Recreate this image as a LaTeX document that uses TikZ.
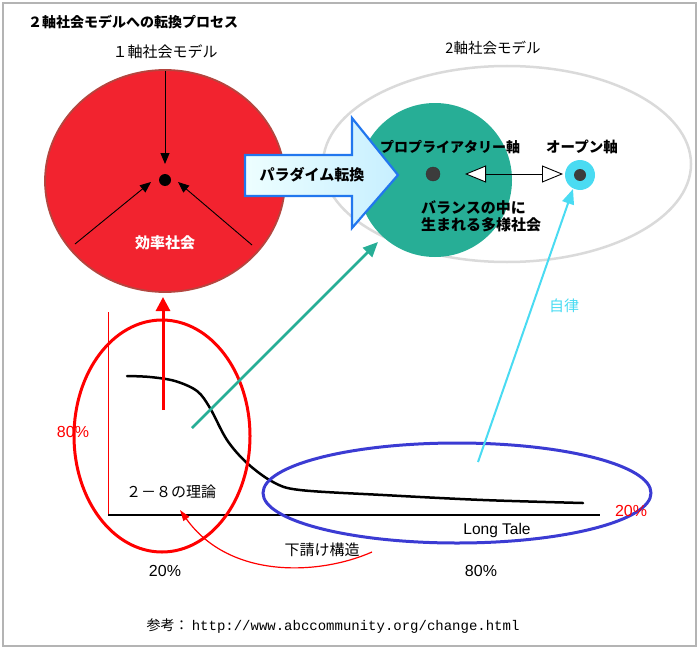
\documentclass[tikz,border=0pt]{standalone}
\usepackage{fontspec}
\newfontfamily\jp{Noto Sans CJK JP}
\newfontfamily\ar{Liberation Sans}
\newfontfamily\mono{Liberation Mono}
\usetikzlibrary{arrows.meta,shapes.geometric}
\definecolor{redfill}{HTML}{F2232F}
\definecolor{redline}{HTML}{B5453F}
\definecolor{teal2}{HTML}{27AE96}
\definecolor{cyan2}{HTML}{4ADBF2}
\definecolor{blue2}{HTML}{3B3BD3}
\definecolor{arrblue}{HTML}{2277EE}
\definecolor{frame}{HTML}{B4B4B4}
\definecolor{ellgray}{HTML}{DADADA}
\definecolor{dotgray}{HTML}{3C3C3C}
\tikzset{
  jlabel/.style={font=\jp\fontsize{15}{17}\selectfont, inner sep=0pt},
  jbold/.style={font=\jp\bfseries\fontsize{14}{18}\selectfont, inner sep=0pt},
  pct/.style={font=\ar\fontsize{16}{18}\selectfont, inner sep=0pt},
  thinarrow/.style={line width=0.9pt, -{Triangle[length=11pt,width=9pt]}},
  blob/.style={ellipse, inner sep=0pt, outer sep=0pt},
}
\begin{document}
\begin{tikzpicture}[x=1pt,y=-1pt]
\useasboundingbox (0,0) rectangle (700,650);
\draw[frame, line width=2pt] (3,3) rectangle (696,646);

% title
\node[jbold, anchor=west] (title) at (28,22) {２軸社会モデルへの転換プロセス};

% right big gray ellipse
\node[blob, draw=ellgray, line width=2.5pt, minimum width=368, minimum height=196] (two) at (507,164) {};
\node[jlabel, font=\jp\fontsize{14.5}{17}\selectfont] (twolab) at (493,48) {2軸社会モデル};

% teal circle
\node[blob, fill=teal2, minimum width=154, minimum height=154] (prop) at (435,180) {};

% red circle
\node[blob, fill=redfill, draw=redline, line width=1.8pt, minimum width=240, minimum height=222] (eff) at (165,181) {};
\node[jlabel] (onelab) at (165,52) {１軸社会モデル};

% center dot and arrows
\node[circle, fill=black, minimum size=12, inner sep=0pt] (cdot) at (165,180) {};
\coordinate (top) at (165,71);
\coordinate (topend) at (165,164);
\coordinate (ls) at (75,244);
\coordinate (le) at (151,182);
\coordinate (rs) at (252,245);
\coordinate (re) at (178,182);
\draw[thinarrow] (top) -- (topend);
\draw[thinarrow] (ls) -- (le);
\draw[thinarrow] (rs) -- (re);
\node[jbold, text=white, font=\jp\bfseries\fontsize{15}{18}\selectfont] (efflab) at (165,243) {効率社会};

% paradigm arrow
\path[draw=arrblue, line width=2.2pt, line join=miter, left color=blue!5!cyan!7, right color=blue!28!cyan!22!white]
  (245,155) -- (352,155) -- (352,118) -- (398,175) -- (352,228) -- (352,196) -- (245,196) -- cycle;
\node[jbold, font=\jp\bfseries\fontsize{15}{18}\selectfont] (para) at (312,175) {パラダイム転換};

% proprietary axis
\node[circle, fill=dotgray, draw=black!80, line width=0.4pt, minimum size=14, inner sep=0pt] (pdot) at (433,174) {};
\node[jbold] (proplab) at (450,147) {プロプライアタリー軸};
\node[jbold, font=\jp\bfseries\fontsize{14.5}{18}\selectfont] (openlab) at (582,147) {オープン軸};
\node[circle, fill=cyan2, minimum size=30, inner sep=0pt] (open) at (580,175) {};
\node[circle, fill=dotgray, minimum size=12, inner sep=0pt] (odot) at (580,175) {};
\coordinate (da) at (465,174);
\coordinate (db) at (563,174);
\draw[line width=0.9pt, {Triangle[length=21pt,width=17pt,fill=white]}-{Triangle[length=21pt,width=17pt,fill=white]}] (da) -- (db);
\node[jbold, anchor=west, align=left, font=\jp\bfseries\fontsize{15}{17}\selectfont] (bal) at (421,216) {バランスの中に\\生まれる多様社会};

% chart axes
\coordinate (o) at (108,515);
\coordinate (ytop) at (108,312);
\coordinate (xend) at (600,515);
\draw[red, line width=1pt] (ytop) -- (o);
\draw[black, line width=2pt] (o) -- (xend);

% curve
\draw[black, line width=2.5pt, line cap=round] plot[smooth, tension=0.55] coordinates
 {(127,376) (150,377) (175,381) (197,391) (210,408) (227,440) (247,463) (273,482) (300,490) (383,495) (483,500) (583,503)};

% ellipses
\node[blob, draw=red, line width=3pt, minimum width=176, minimum height=232] (pareto) at (162,436) {};
\node[blob, draw=blue2, line width=3pt, minimum width=388, minimum height=100] (tail) at (457,493) {};

% arrows from chart
\coordinate (rs1) at (163,410);
\coordinate (re1) at (163,297);
\draw[red, line width=3pt, -{Triangle[length=14pt,width=14pt]}] (rs1) -- (re1);
\coordinate (ts) at (192,428);
\coordinate (te) at (378,242);
\draw[teal2, line width=2.5pt, -{Triangle[length=15pt,width=13pt]}] (ts) -- (te);
\coordinate (cs) at (478,462);
\coordinate (ce) at (573,189);
\draw[cyan2, line width=2pt, -{Triangle[length=15pt,width=12pt]}] (cs) -- (ce);
\node[jlabel, text=cyan2] (auto) at (564,306) {自律};

% red thin curved arrow
\coordinate (ss) at (372,552);
\coordinate (se) at (180,510);
\draw[red, line width=1.2pt, -{Triangle[length=11pt,width=7pt]}] (ss) .. controls (320,575) and (230,580) .. (se);

% labels
\node[pct, text=red] (p80l) at (73,432) {80\%};
\node[pct, text=red] (p20r) at (631,511) {20\%};
\node[jlabel] (theory) at (171,492) {２－８の理論};
\node[jlabel] (sub) at (322,550) {下請け構造};
\node[font=\ar\fontsize{15.5}{17}\selectfont, inner sep=0pt] (lt) at (497,530) {Long Tale};
\node[pct] (p20) at (165,571) {20\%};
\node[pct] (p80) at (481,571) {80\%};

\node[inner sep=0pt] (ref) at (333,626) {{\jp\fontsize{14}{16}\selectfont 参考：} {\mono\fontsize{14}{16}\selectfont http://www.abccommunity.org/change.html}};
\end{tikzpicture}
\end{document}
